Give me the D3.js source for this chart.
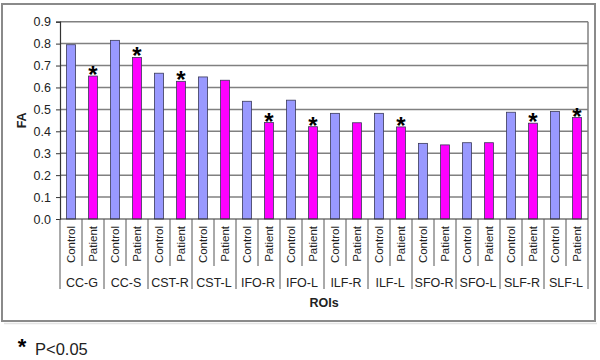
<!DOCTYPE html>
<html><head><meta charset="utf-8">
<script src="https://cdn.jsdelivr.net/npm/d3@7"></script>
<style>body{margin:0;background:#fff}svg{display:block;font-family:"Liberation Sans",Arial,sans-serif}</style>
</head><body><svg id="c" width="600" height="360"></svg>
<script>
const rois = ["CC-G","CC-S","CST-R","CST-L","IFO-R","IFO-L","ILF-R","ILF-L","SFO-R","SFO-L","SLF-R","SLF-L"];
const groups = ["Control","Patient"];
const controlFA = [0.795,0.815,0.665,0.648,0.537,0.542,0.482,0.482,0.345,0.348,0.487,0.490];
const patientFA = [0.652,0.737,0.628,0.633,0.440,0.421,0.439,0.420,0.338,0.348,0.437,0.463];
const significant = [true,true,true,false,true,true,false,true,false,false,true,true];
const yTicks = [0,0.1,0.2,0.3,0.4,0.5,0.6,0.7,0.8,0.9];
const colors = {Control:"#9999ff", Patient:"#ff00ff"};

const svg = d3.select("#c");
const L=60, R=588, T=21.7, B=219;

// outer border
svg.append("rect").attr("x",2).attr("y",4).attr("width",593).attr("height",317)
  .attr("fill","#fff").attr("stroke","#8a8a8a").attr("stroke-width",2);
svg.append("line").attr("x1",4).attr("x2",597).attr("y1",323.5).attr("y2",323.5).attr("stroke","#e4e4e4").attr("stroke-width",1.5);

const data = [];
rois.forEach((r,i)=>{
  data.push({roi:r,g:"Control",v:controlFA[i],sig:false,key:r+"|Control"});
  data.push({roi:r,g:"Patient",v:patientFA[i],sig:significant[i],key:r+"|Patient"});
});

const p = 13/22;
const x = d3.scaleBand().domain(data.map(d=>d.key)).range([L,R]).paddingInner(p).paddingOuter(p/2);
const xg = d3.scaleBand().domain(rois).range([L,R]);
const y = d3.scaleLinear().domain([0,0.9]).range([B,T]);

// gridlines
svg.append("g").selectAll("line").data(yTicks.filter(t=>t>0)).join("line")
  .attr("x1",L).attr("x2",R).attr("y1",d=>y(d)).attr("y2",d=>y(d))
  .attr("stroke","#808080").attr("stroke-width",1.5);
svg.append("line").attr("x1",R).attr("x2",R).attr("y1",T).attr("y2",B).attr("stroke","#808080").attr("stroke-width",1.5);

// y axis
const ya = svg.append("g").attr("transform",`translate(${L},0)`)
  .call(d3.axisLeft(y).tickValues(yTicks).tickFormat(d3.format(".1f")).tickSize(4).tickPadding(5));
ya.select(".domain").attr("stroke","#333").attr("stroke-width",1.2);
ya.selectAll(".tick line").attr("stroke","#333");
ya.selectAll("text").attr("font-size","12.5px").attr("fill","#222").attr("font-family","Liberation Sans, Arial");

// bars
svg.append("g").selectAll("rect").data(data).join("rect")
  .attr("x",d=>x(d.key)).attr("width",x.bandwidth())
  .attr("y",d=>y(d.v)).attr("height",d=>B-y(d.v))
  .attr("fill",d=>colors[d.g]).attr("stroke","#3a3a5a").attr("stroke-width",0.8);

// asterisks
svg.append("g").selectAll("text").data(data.filter(d=>d.sig)).join("text")
  .attr("x",d=>x(d.key)+x.bandwidth()/2).attr("y",d=>y(d.v)+7)
  .attr("text-anchor","middle").attr("font-size","24px").attr("font-weight","bold").text("*");

// x axis line
svg.append("line").attr("x1",L).attr("x2",R).attr("y1",B).attr("y2",B).attr("stroke","#333").attr("stroke-width",1.2);

// dividers
const step = x.step();
const bounds = d3.range(data.length+1);
svg.append("g").selectAll("line").data(bounds).join("line")
  .attr("x1",i=>L+i*step).attr("x2",i=>L+i*step)
  .attr("y1",B).attr("y2",i=>i%2===0?289:266)
  .attr("stroke","#555").attr("stroke-width",1);

// inner labels
svg.append("g").selectAll("text").data(data).join("text")
  .attr("transform",d=>`translate(${x(d.key)+x.bandwidth()/2},226) rotate(-90)`)
  .attr("text-anchor","end").attr("dy","0.36em")
  .attr("font-size","11.5px").attr("fill","#222").text(d=>d.g);

// group labels
svg.append("g").selectAll("text").data(rois).join("text")
  .attr("x",d=>xg(d)+xg.bandwidth()/2).attr("y",287)
  .attr("text-anchor","middle").attr("font-size","12.5px").attr("fill","#222").text(d=>d);

// axis titles
svg.append("text").attr("x",(L+R)/2).attr("y",307).attr("text-anchor","middle")
  .attr("font-size","12.5px").attr("font-weight","bold").attr("fill","#222").text("ROIs");
svg.append("text").attr("transform",`translate(21,${(T+B)/2}) rotate(-90)`).attr("text-anchor","middle")
  .attr("dy","0.36em").attr("font-size","12.5px").attr("font-weight","bold").attr("fill","#222").text("FA");

// legend
svg.append("text").attr("x",22).attr("y",354).attr("text-anchor","middle").attr("font-size","22px").attr("font-weight","bold").text("*");
svg.append("text").attr("x",35).attr("y",355).attr("font-size","16.5px").attr("fill","#222").text("P<0.05");
</script></body></html>
